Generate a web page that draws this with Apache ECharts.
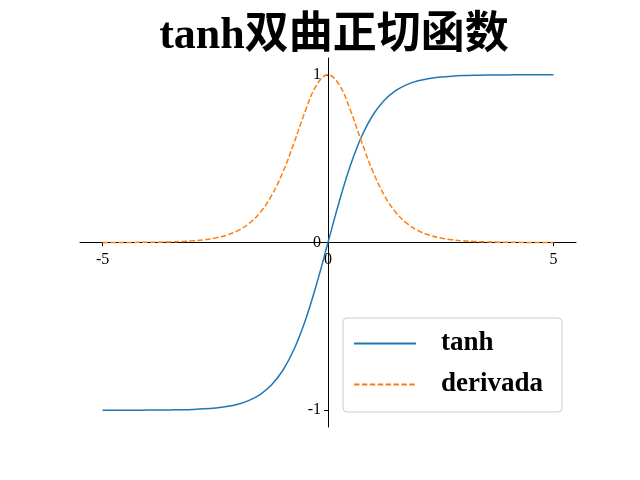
<!DOCTYPE html>
<html>
<head>
<meta charset="utf-8">
<script src="https://cdn.jsdelivr.net/npm/echarts@6/dist/echarts.min.js"></script>
<style>html,body{margin:0;padding:0;background:#fff;}#c{width:640px;height:480px;}</style>
</head>
<body>
<div id="c"></div>
<script>
const xValues = [-5,-4.75,-4.5,-4.25,-4,-3.75,-3.5,-3.25,-3,-2.75,-2.5,-2.25,-2,-1.75,-1.5,-1.25,-1,-0.75,-0.5,-0.25,0,0.25,0.5,0.75,1,1.25,1.5,1.75,2,2.25,2.5,2.75,3,3.25,3.5,3.75,4,4.25,4.5,4.75,5];
const tanhValues = [-0.9999,-0.9999,-0.9998,-0.9996,-0.9993,-0.9989,-0.9982,-0.9970,-0.9951,-0.9919,-0.9866,-0.9780,-0.9640,-0.9414,-0.9051,-0.8483,-0.7616,-0.6351,-0.4621,-0.2449,0,0.2449,0.4621,0.6351,0.7616,0.8483,0.9051,0.9414,0.9640,0.9780,0.9866,0.9919,0.9951,0.9970,0.9982,0.9989,0.9993,0.9996,0.9998,0.9999,0.9999];
const derivValues = [0.0002,0.0003,0.0005,0.0008,0.0013,0.0022,0.0036,0.0060,0.0099,0.0161,0.0266,0.0435,0.0707,0.1138,0.1807,0.2804,0.4200,0.5966,0.7864,0.9400,1,0.9400,0.7864,0.5966,0.4200,0.2804,0.1807,0.1138,0.0707,0.0435,0.0266,0.0161,0.0099,0.0060,0.0036,0.0022,0.0013,0.0008,0.0005,0.0003,0.0002];
const xTicks = [-5, 0, 5];
const yTicks = [-1, 0, 1];
const seriesNames = ['tanh', 'derivada'];
const titleText = 'tanh双曲正切函数';

const serif = '"Liberation Serif", "DejaVu Serif", "Noto Sans CJK SC", serif';
const chart = echarts.init(document.getElementById('c'), null, {renderer: 'canvas'});
chart.setOption({
  backgroundColor: '#fff',
  animation: false,
  title: {
    text: titleText,
    left: 329, top: 10, textAlign: 'center',
    textStyle: {fontFamily: serif, fontSize: 44, fontWeight: 'bold', color: '#000'}
  },
  grid: {left: 80, right: 64, top: 58, bottom: 53, containLabel: false},
  xAxis: {
    type: 'value', min: -5.5, max: 5.5, offset: -185,
    axisLine: {onZero: false, lineStyle: {color: '#000', width: 1}},
    axisTick: {show: true, length: 4, customValues: xTicks, lineStyle: {color: '#000'}},
    axisLabel: {customValues: xTicks, color: '#000', fontFamily: serif, fontSize: 16, margin: 10},
    splitLine: {show: false}
  },
  yAxis: {
    type: 'value', min: -1.1, max: 1.1, offset: -248,
    axisLine: {show: true, onZero: false, lineStyle: {color: '#000', width: 1}},
    axisTick: {show: true, length: 4, customValues: yTicks, lineStyle: {color: '#000'}},
    axisLabel: {customValues: yTicks, color: '#000', fontFamily: serif, fontSize: 16, margin: 7},
    splitLine: {show: false}
  },
  legend: {
    orient: 'vertical', left: 343, top: 318,
    data: seriesNames,
    backgroundColor: '#fff',
    borderColor: '#ccc', borderWidth: 1, borderRadius: 4,
    padding: [12, 19, 14, 10],
    itemWidth: 62, itemHeight: 14, itemGap: 14,
    itemStyle: {opacity: 0},
    textStyle: {fontFamily: serif, fontSize: 27, fontWeight: 'bold', color: '#000', lineHeight: 26, padding: [0, 0, 0, 20]}
  },
  series: [
    {
      name: seriesNames[0], type: 'line', symbol: 'none', smooth: 0.4,
      data: xValues.map((x, i) => [x, tanhValues[i]]),
      lineStyle: {color: '#1f77b4', width: 1.5},
      itemStyle: {color: '#1f77b4'}
    },
    {
      name: seriesNames[1], type: 'line', symbol: 'none', smooth: 0.4,
      data: xValues.map((x, i) => [x, derivValues[i]]),
      lineStyle: {color: '#ff7f0e', width: 1.5, type: [5.5, 2.4]},
      itemStyle: {color: '#ff7f0e'}
    }
  ]
});
</script>
</body>
</html>
